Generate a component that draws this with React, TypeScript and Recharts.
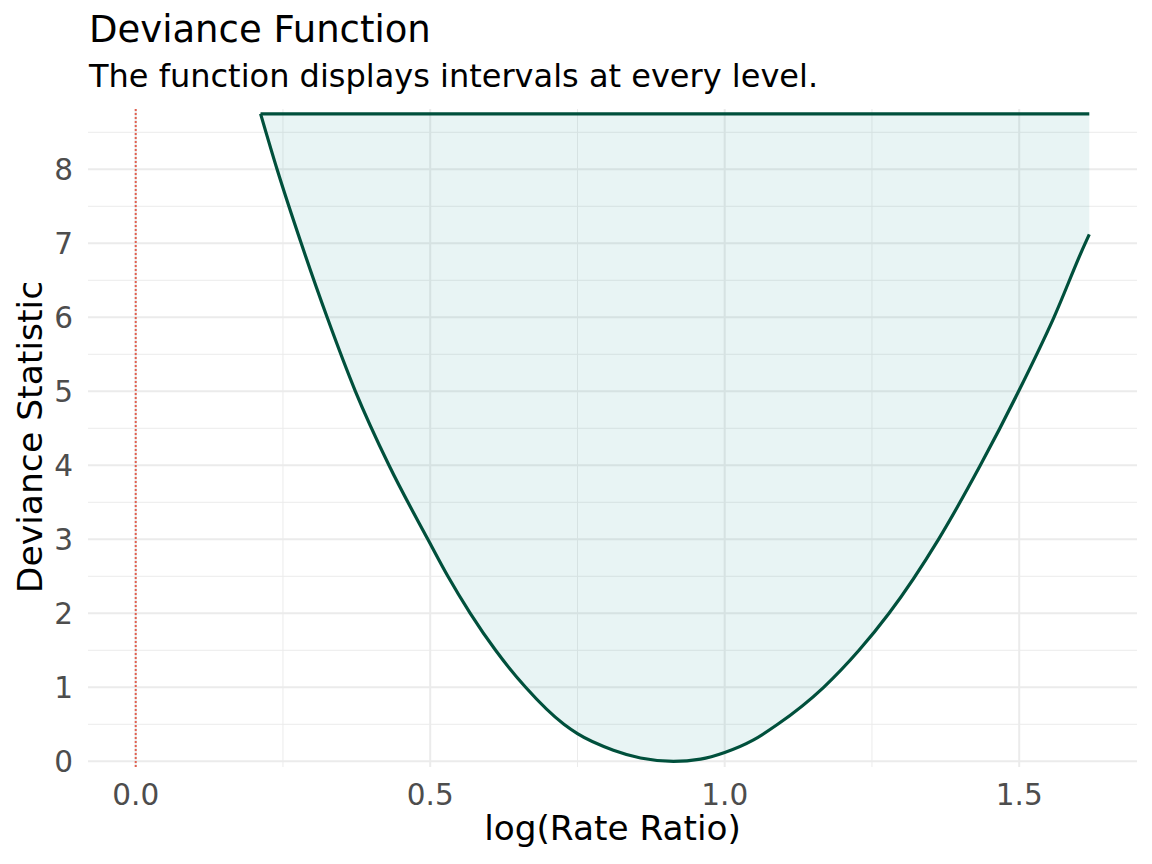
import {
  ComposedChart,
  Area,
  Line,
  XAxis,
  YAxis,
  CartesianGrid,
  ReferenceLine,
} from 'recharts';

// curve, log(rate ratio) vs deviance
const logRateRatio = [
  0.212, 0.24, 0.281, 0.325, 0.373, 0.43, 0.496, 0.53, 0.568, 0.611, 0.662, 0.727, 0.75, 0.811, 0.857,
  0.913, 0.959, 1.0, 1.049, 1.09, 1.168, 1.228, 1.279, 1.363, 1.434, 1.499, 1.559, 1.612, 1.619,
];
const devianceStat = [
  8.75, 8, 7, 6, 5, 4, 3, 2.5, 2, 1.5, 1, 0.5, 0.373, 0.15, 0.045,
  0, 0.03, 0.12, 0.29, 0.5, 1, 1.5, 2, 3, 4, 5, 6, 7, 7.12,
];
const ceiling = 8.75;

const xTicks = [0, 0.5, 1, 1.5];
const xMinorTicks = [0.25, 0.75, 1.25];
const yTicks = [0, 1, 2, 3, 4, 5, 6, 7, 8];
const yMinorTicks = [0.5, 1.5, 2.5, 3.5, 4.5, 5.5, 6.5, 7.5, 8.5];

const xDomain = [-0.081, 1.7];
const yDomain = [-0.077, 8.815];

const font = '"DejaVu Sans", Verdana, sans-serif';
const lineColor = '#00503c';

const data = logRateRatio.map((x, i) => ({
  x,
  dev: devianceStat[i],
  band: [devianceStat[i], ceiling],
  top: ceiling,
}));

// minor grid positions: use the axis scale when it is callable, else map the domain onto the plot box
const minorY = ({ yAxis, offset }: any) =>
  yMinorTicks.map((v) =>
    typeof yAxis?.scale === 'function'
      ? yAxis.scale(v)
      : offset.top + ((yDomain[1] - v) / (yDomain[1] - yDomain[0])) * offset.height,
  );
const minorX = ({ xAxis, offset }: any) =>
  xMinorTicks.map((v) =>
    typeof xAxis?.scale === 'function'
      ? xAxis.scale(v)
      : offset.left + ((v - xDomain[0]) / (xDomain[1] - xDomain[0])) * offset.width,
  );

export default function App() {
  return (
    <div style={{ position: 'absolute', left: 0, top: 0, width: 1152, height: 864, background: '#fff', fontFamily: font }}>
      <ComposedChart width={1152} height={864} data={data} margin={{ top: 109, right: 15, bottom: 57, left: 18 }}>
        <CartesianGrid
          stroke="#ebebeb"
          strokeWidth={1}
          horizontalCoordinatesGenerator={minorY}
          verticalCoordinatesGenerator={minorX}
        />
        <CartesianGrid stroke="#ebebeb" strokeWidth={2} syncWithTicks />
        <XAxis
          type="number"
          dataKey="x"
          domain={xDomain}
          ticks={xTicks}
          tickFormatter={(v) => v.toFixed(1)}
          axisLine={false}
          tickLine={false}
          tickSize={0}
          tickMargin={17}
          height={40}
          tick={{ fontSize: 29.5, fill: '#4d4d4d', fontFamily: font }}
        />
        <YAxis
          type="number"
          domain={yDomain}
          ticks={yTicks}
          axisLine={false}
          tickLine={false}
          tickSize={0}
          tickMargin={15}
          width={70}
          tick={{ fontSize: 29.5, fill: '#4d4d4d', fontFamily: font }}
        />
        <ReferenceLine x={0} stroke="#e06050" strokeWidth={2} strokeDasharray="2 2" />
        <Area
          type="monotone"
          dataKey="band"
          stroke="none"
          fill="#199191"
          fillOpacity={0.1}
          isAnimationActive={false}
        />
        <Line type="linear" dataKey="top" stroke={lineColor} strokeWidth={3.2} dot={false} isAnimationActive={false} />
        <Line type="monotone" dataKey="dev" stroke={lineColor} strokeWidth={3.2} dot={false} isAnimationActive={false} />
      </ComposedChart>
      <svg width={1152} height={864} style={{ position: 'absolute', left: 0, top: 0, pointerEvents: 'none' }}>
        <text x={89} y={42} fontSize={37} fill="#000" fontFamily={font}>Deviance Function</text>
        <text x={89} y={87} fontSize={32} fill="#000" fontFamily={font}>The function displays intervals at every level.</text>
        <text x={612.5} y={840} fontSize={34.3} fill="#000" textAnchor="middle" fontFamily={font}>log(Rate Ratio)</text>
        <text transform="translate(42,437) rotate(-90)" fontSize={34.6} fill="#000" textAnchor="middle" fontFamily={font}>
          Deviance Statistic
        </text>
      </svg>
    </div>
  );
}
